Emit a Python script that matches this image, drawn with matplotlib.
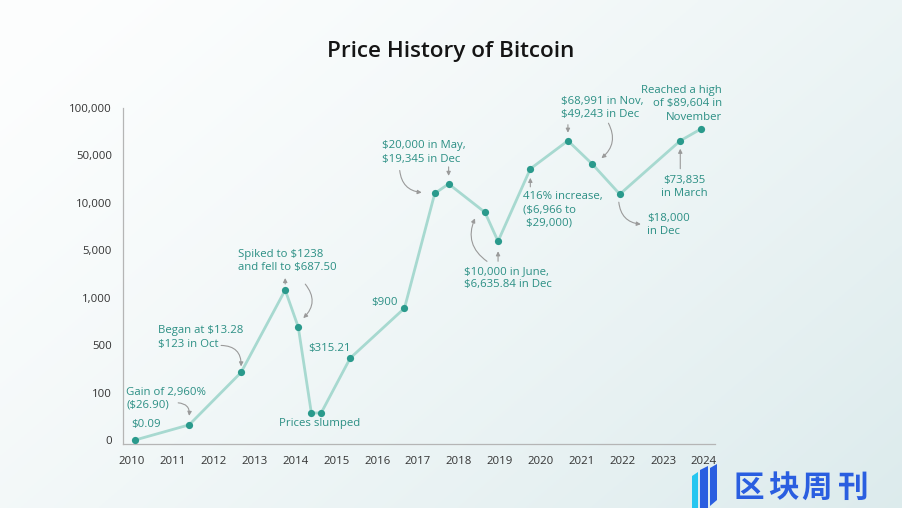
import matplotlib

matplotlib.use("Agg")
import matplotlib.pyplot as plt
import numpy as np
from matplotlib.patches import Polygon

# data
years = [2010.08, 2011.40, 2012.67, 2013.75, 2014.07, 2014.39, 2014.63, 2015.34,
         2016.67, 2017.41, 2017.75, 2018.64, 2018.96, 2019.75, 2020.67, 2021.27,
         2021.94, 2023.42, 2023.93]
prices = [0.09, 32, 270, 1650, 690, 57, 57, 390,
          890, 17900, 26000, 9000, 5950, 38700, 65500, 42600,
          17300, 65500, 78000]
ytick_vals = [0, 100, 500, 1000, 5000, 10000, 50000, 100000]
ytick_labels = ["0", "100", "500", "1,000", "5,000", "10,000", "50,000", "100,000"]
xtick_years = list(range(2010, 2025))

# (point index, text, dx, dy, ha)  offsets in pixels, dy up
notes = [
    (0, "$0.09", 11, 15, "center"),
    (1, "Gain of 2,960%\n($26.90)", -63, 26, "left"),
    (2, "Began at $13.28\n$123 in Oct", -83, 35, "left"),
    (3, "Spiked to $1238\nand fell to $687.50", -47, 29, "left"),
    (7, "$315.21", -21, 10, "center"),
    (5, "Prices slumped", 8, -11, "center"),
    (8, "$900", -20, 6, "center"),
    (9, "$20,000 in May,\n$19,345 in Dec", -53, 41, "left"),
    (12, "$10,000 in June,\n$6,635.84 in Dec", -34, -37, "left"),
    (13, "416% increase,\n($6,966 to\n $29,000)", -7, -41, "left"),
    (14, "$68,991 in Nov,\n$49,243 in Dec", -7, 33, "left"),
    (16, "$18,000\nin Dec", 27, -31, "left"),
    (17, "$73,835\nin March", 4, -46, "center"),
    (18, "Reached a high\nof $89,604 in\nNovember", 21, 25, "right"),
]

# (point index, start dx, dy, end dx, dy, curvature)
arrows = [
    (1, -11, 22, 0, 9, -0.5),
    (2, -20, 27, 0, 6, -0.5),
    (3, 0, 6, 0, 12, 0.0),
    (4, 7, 43, 5, 9, -0.45),
    (9, -35, 23, -13, 1, 0.4),
    (10, 0, 17, 0, 8, 0.0),
    (11, 2, -49, -10, -6, -0.4),
    (12, 0, -20, 0, -10, 0.0),
    (13, 0, -18, 0, -9, 0.0),
    (14, 0, 16, 0, 8, 0.0),
    (15, 16, 41, 9, 6, -0.4),
    (16, -1, -8, 21, -30, 0.4),
    (17, 0, -28, 0, -8, 0.0),
]

TEAL_TXT = "#2b8f84"
TEAL_DOT = "#2a9a8c"
TEAL_LINE = "#a7d9d0"
GRAY = "#9a9a9a"

plt.rcParams["font.family"] = ["Open Sans", "DejaVu Sans"]

W, H = 902, 508
fig = plt.figure(figsize=(W / 100, H / 100), dpi=100)

# soft diagonal background
bg = fig.add_axes([0, 0, 1, 1], zorder=-1)
gx, gy = np.meshgrid(np.linspace(0, 1, 300), np.linspace(0, 1, 200))
t = np.clip((gx * 0.6 + gy * 0.4), 0, 1) ** 1.3
c0 = np.array([0.992, 0.996, 0.996])
c1 = np.array([0.865, 0.922, 0.928])
img = c0[None, None, :] * (1 - t[..., None]) + c1[None, None, :] * t[..., None]
bg.imshow(img, aspect="auto", extent=[0, 1, 0, 1], origin="upper")
bg.axis("off")

ypos = np.arange(len(ytick_vals), dtype=float)


def fwd(v):
    v = np.asarray(v, dtype=float)
    return np.where(v < 0, v / 100.0, np.interp(v, ytick_vals, ypos))


def inv(p):
    p = np.asarray(p, dtype=float)
    return np.where(p < 0, p * 100.0, np.interp(p, ypos, ytick_vals))


ax = fig.add_axes([123 / W, 64 / H, 592 / W, 336 / H])
ax.set_facecolor("none")
ax.set_yscale("function", functions=(fwd, inv))
ax.set_xlim(2009.78, 2024.27)
ax.set_ylim(-8.4, 100000)

ax.plot(years, prices, color=TEAL_LINE, lw=2.0, zorder=2)
ax.plot(years, prices, "o", color=TEAL_DOT, ms=5.2, mec="none", zorder=3)

ax.set_yticks(ytick_vals)
ax.set_yticklabels(ytick_labels)
ax.set_xticks(xtick_years)
ax.set_xticklabels([str(y) for y in xtick_years])
ax.tick_params(axis="both", length=0, labelsize=8.2, labelcolor="#333333")
ax.tick_params(axis="x", pad=8.5)
ax.tick_params(axis="y", pad=8)
ax.minorticks_off()
for s in ["top", "right"]:
    ax.spines[s].set_visible(False)
for s in ["left", "bottom"]:
    ax.spines[s].set_color("#b5b5b5")
    ax.spines[s].set_linewidth(0.9)


def shift(i, dx, dy):
    d = ax.transData.transform((years[i], prices[i]))
    return tuple(ax.transData.inverted().transform(d + np.array([dx, dy])))


for i, txt, dx, dy, ha in notes:
    ax.annotate(txt, xy=(years[i], prices[i]), xytext=(dx, dy),
                textcoords="offset pixels", ha=ha, va="center", ma=ha,
                fontsize=8.2, color=TEAL_TXT, linespacing=1.27, zorder=4)

for i, sx, sy, ex, ey, rad in arrows:
    ax.annotate("", xy=shift(i, ex, ey), xytext=shift(i, sx, sy),
                arrowprops=dict(arrowstyle="-|>", color=GRAY, lw=0.8,
                                mutation_scale=6, shrinkA=0, shrinkB=0,
                                connectionstyle="arc3,rad={}".format(rad)),
                zorder=4)

fig.text(0.5, 1 - 52 / H, "Price History of Bitcoin", ha="center", va="center",
         fontsize=16.2, fontweight="semibold", color="#151515")

# watermark logo
def fpoly(pts, color):
    p = Polygon([(x / W, 1 - y / H) for x, y in pts], closed=True,
                transform=fig.transFigure, color=color, lw=0)
    fig.add_artist(p)


fpoly([(692, 476), (698, 472), (698, 508), (692, 508)], "#26c6f0")
fpoly([(700, 470), (708, 466), (708, 508), (700, 508)], "#2a5ee0")
fpoly([(710, 468), (717, 464), (717, 500), (710, 506)], "#2a5ee0")
for ch, cx in zip("区块周刊", [749, 783, 817, 853]):
    fig.text(cx / W, 1 - 488 / H, ch, ha="center", va="center",
             fontsize=22, fontweight="bold", color="#2a5ee0",
             family=["Noto Sans CJK SC", "DejaVu Sans"])

fig.savefig("out.png", dpi=100)
